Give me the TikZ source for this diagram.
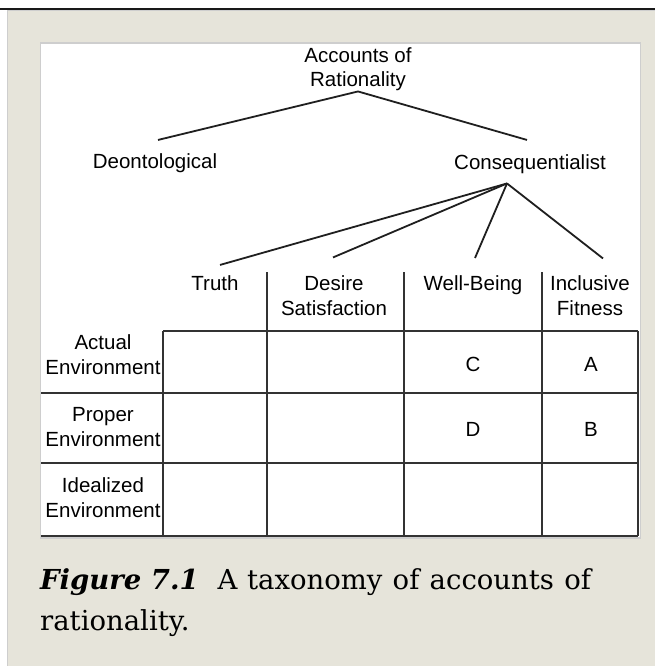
\documentclass[tikz,border=0pt]{standalone}
\usepackage{fontspec}
\setmainfont{DejaVu Serif}
\newfontfamily\diagfont{Liberation Sans}
\definecolor{panel}{RGB}{230,228,218}
\definecolor{rim}{RGB}{206,206,206}
\begin{document}
\begin{tikzpicture}[x=1pt,y=-1pt,
  lbl/.style={font=\diagfont\fontsize{20.5}{24.5}\selectfont,align=center,inner sep=0pt,anchor=base},
  branch/.style={line width=1.8pt,black!88},
  rule/.style={line width=1.8pt,black!80},
  caption/.style={font=\fontsize{27.5}{41}\selectfont,align=left,inner sep=0pt,anchor=base west}]
\useasboundingbox (0,0) rectangle (655,666);
\fill[white] (0,0) rectangle (655,666);
\fill[panel] (7.5,10) rectangle (655,666);
\draw[rim,line width=1.2pt] (7.5,666) -- (7.5,10.5) -- (655,10.5);
\draw[line width=2pt,black!90] (0,9) -- (655,9);
\draw[rim,fill=white,line width=1.4pt] (40.5,43) rectangle (640.5,538);
\node[lbl] (root) at (358,87) {Accounts of\\Rationality};
\node[lbl] (deon) at (155,168) {Deontological};
\node[lbl] (cons) at (530,169) {Consequentialist};
\node[lbl] (truth) at (215,290) {Truth};
\node[lbl] (desire) at (334,315) {Desire\\Satisfaction};
\node[lbl] (well) at (473,290) {Well-Being};
\node[lbl] (incl) at (590,315) {Inclusive\\Fitness};
\node[lbl] (actual) at (103,374) {Actual\\Environment};
\node[lbl] (proper) at (103,446) {Proper\\Environment};
\node[lbl] (ideal) at (103,517) {Idealized\\Environment};
\node[lbl] (c) at (473,371) {C};
\node[lbl] (a) at (591,371) {A};
\node[lbl] (d) at (473,436) {D};
\node[lbl] (b) at (591,436) {B};
\draw[branch] ([xshift=3pt,yshift=13pt]deon.north) -- (root.south) -- ([xshift=-3pt,yshift=14pt]cons.north);
\draw[branch] ([xshift=5pt,yshift=10pt]truth.north) -- ([xshift=-23pt,yshift=-10pt]cons.south);
\draw[branch] ([xshift=-1pt,yshift=18pt]desire.north) -- ([xshift=-23pt,yshift=-10pt]cons.south);
\draw[branch] ([xshift=2pt,yshift=17pt]well.north) -- ([xshift=-23pt,yshift=-10pt]cons.south);
\draw[branch] ([xshift=13pt,yshift=17pt]incl.north) -- ([xshift=-23pt,yshift=-10pt]cons.south);
\draw[rule] (163,331) -- (638,331);
\draw[rule] (41,393) -- (638,393);
\draw[rule] (41,463) -- (638,463);
\draw[rule] (41,536) -- (638,536);
\draw[rule] (163,331) -- (163,536);
\draw[rule] (267,272) -- (267,536);
\draw[rule] (404,272) -- (404,536);
\draw[rule] (542,272) -- (542,536);
\draw[rule] (638,331) -- (638,536);
\node[caption] (cap) at (40,630) {\textbf{\textit{Figure 7.1}}\hspace{10pt} A\hspace{1pt} taxonomy\hspace{1.5pt} of\hspace{1.5pt} accounts\hspace{1.5pt} of\\rationality.};
\end{tikzpicture}
\end{document}
